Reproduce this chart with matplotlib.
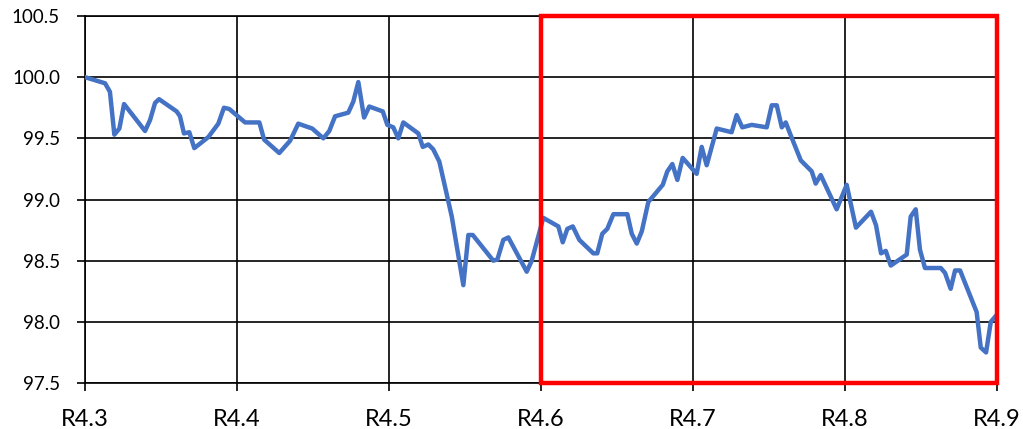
import matplotlib
matplotlib.use("Agg")
import matplotlib.pyplot as plt
from matplotlib.patches import Rectangle

plt.rcParams['font.family'] = ['Lato', 'DejaVu Sans']

# exchange rate (ZAR per unit) vs. index value
rate = [4.3000, 4.3132, 4.3164, 4.3193, 4.3226, 4.3257, 4.3395, 4.3428, 4.3461, 4.3487,
        4.3603, 4.3625, 4.3651, 4.3686, 4.3719, 4.3811, 4.3877, 4.3914, 4.3949, 4.4053,
        4.4147, 4.4178, 4.4278, 4.4349, 4.4403, 4.4495, 4.4568, 4.4607, 4.4645, 4.4732,
        4.4765, 4.4798, 4.4836, 4.4870, 4.4959, 4.4989, 4.5028, 4.5061, 4.5094, 4.5193,
        4.5222, 4.5259, 4.5291, 4.5331, 4.5413, 4.5489, 4.5522, 4.5551, 4.5686, 4.5713,
        4.5752, 4.5785, 4.5906, 4.5939, 4.6015, 4.6114, 4.6143, 4.6173, 4.6209, 4.6252,
        4.6344, 4.6370, 4.6403, 4.6436, 4.6476, 4.6568, 4.6597, 4.6630, 4.6663, 4.6706,
        4.6801, 4.6831, 4.6864, 4.6897, 4.6932, 4.7024, 4.7057, 4.7090, 4.7123, 4.7156,
        4.7254, 4.7287, 4.7324, 4.7386, 4.7485, 4.7518, 4.7551, 4.7584, 4.7610, 4.7638,
        4.7709, 4.7781, 4.7807, 4.7840, 4.7945, 4.8011, 4.8072, 4.8171, 4.8204, 4.8237,
        4.8268, 4.8301, 4.8406, 4.8432, 4.8465, 4.8493, 4.8526, 4.8630, 4.8658, 4.8695,
        4.8724, 4.8757, 4.8866, 4.8893, 4.8928, 4.8959, 4.9000]
index = [100.00, 99.95, 99.88, 99.53, 99.58, 99.78, 99.56, 99.65, 99.79, 99.82,
         99.72, 99.68, 99.54, 99.55, 99.42, 99.51, 99.62, 99.75, 99.74, 99.63,
         99.63, 99.49, 99.38, 99.48, 99.62, 99.58, 99.50, 99.56, 99.68, 99.71,
         99.80, 99.96, 99.67, 99.76, 99.72, 99.61, 99.59, 99.50, 99.63, 99.54,
         99.43, 99.45, 99.41, 99.31, 98.86, 98.30, 98.71, 98.71, 98.50, 98.51,
         98.67, 98.69, 98.41, 98.50, 98.85, 98.78, 98.65, 98.76, 98.78, 98.67,
         98.56, 98.56, 98.72, 98.76, 98.88, 98.88, 98.72, 98.64, 98.74, 98.98,
         99.12, 99.23, 99.29, 99.16, 99.34, 99.21, 99.43, 99.28, 99.43, 99.58,
         99.55, 99.69, 99.59, 99.61, 99.59, 99.77, 99.77, 99.59, 99.63, 99.54,
         99.32, 99.23, 99.13, 99.20, 98.92, 99.12, 98.77, 98.90, 98.79, 98.56,
         98.58, 98.46, 98.55, 98.86, 98.92, 98.59, 98.44, 98.44, 98.40, 98.27,
         98.42, 98.42, 98.08, 97.79, 97.75, 98.00, 98.06]

x_ticks = [4.3, 4.4, 4.5, 4.6, 4.7, 4.8, 4.9]
x_labels = ['R4.3', 'R4.4', 'R4.5', 'R4.6', 'R4.7', 'R4.8', 'R4.9']
y_ticks = [97.5, 98.0, 98.5, 99.0, 99.5, 100.0, 100.5]

# highlighted window
box_x = (4.6, 4.9)
box_y = (97.5, 100.5)

fig = plt.figure(figsize=(10.23, 4.29), dpi=100)
ax = fig.add_axes([0.0831, 0.1072, 0.8915, 0.8555])

ax.plot(rate, index, color='#4472C4', linewidth=3.2, zorder=3)

ax.set_xlim(4.3, 4.9)
ax.set_ylim(97.5, 100.5)
ax.set_xticks(x_ticks)
ax.set_xticklabels(x_labels)
ax.set_yticks(y_ticks)
ax.set_yticklabels(['%.1f' % v for v in y_ticks])

ax.grid(True, color='black', linewidth=1.2)
for sp in ax.spines.values():
    sp.set_color('black')
    sp.set_linewidth(1.2)
ax.tick_params(axis='x', labelsize=17, length=6, width=1.2, pad=13)
ax.tick_params(axis='y', labelsize=13.5, length=6, width=1.2, pad=12)

rect = Rectangle((box_x[0], box_y[0]), box_x[1] - box_x[0], box_y[1] - box_y[0],
                 fill=False, edgecolor='#FF0000', linewidth=3.2, clip_on=False, zorder=4)
ax.add_patch(rect)

fig.savefig('out.png', dpi=100)
